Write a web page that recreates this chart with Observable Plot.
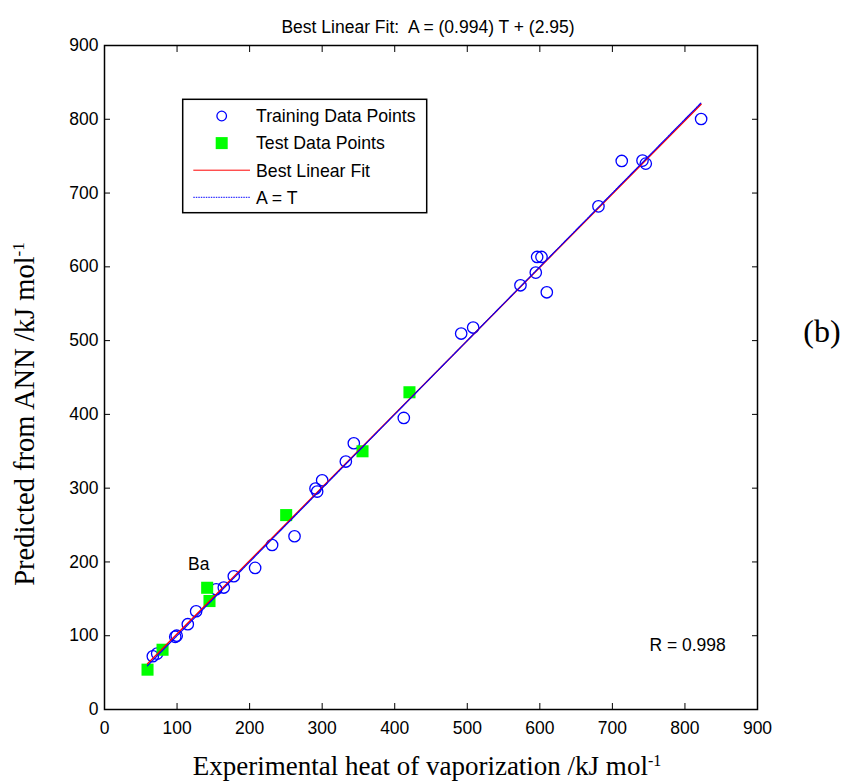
<!DOCTYPE html>
<html>
<head>
<meta charset="utf-8">
<script src="https://cdn.jsdelivr.net/npm/d3@7"></script>
<script src="https://cdn.jsdelivr.net/npm/@observablehq/plot@0.6"></script>
<style>
  html, body { margin: 0; padding: 0; background: #fff; }
  #wrap { position: relative; width: 849px; height: 784px; }
  #wrap > svg { position: absolute; left: 0; top: 0; }
</style>
</head>
<body>
<div id="wrap"></div>
<script>
// Training data: experimental T, predicted A (kJ/mol)
const trainT = [66.6, 72.6, 97.5, 99.5, 114.8, 126.3, 153.9, 164.4, 178.2, 207.6, 231.0, 261.9, 290.8, 293.1, 300.0, 332.6, 343.6, 412.5, 491.6, 508.1, 573.3, 594.4, 596.3, 602.3, 609.6, 680.8, 712.9, 741.5, 746.0, 822.3];
const trainA = [72.2, 75.8, 98.5, 100.0, 115.6, 133.2, 163.0, 165.3, 180.6, 191.9, 223.0, 234.8, 299.5, 295.4, 310.7, 336.1, 360.9, 395.2, 509.6, 517.7, 575.0, 592.2, 613.4, 613.4, 565.5, 682.0, 743.5, 744.0, 739.9, 800.4];
// Test data
const testT = [59.3, 80.0, 144.7, 141.5, 250.4, 355.6, 420.3];
const testA = [54.0, 81.0, 147.0, 165.0, 263.5, 350.0, 430.0];
// Fit parameters
const slope = 0.994, intercept = 2.95, R = 0.998;
const xTicks = [0, 100, 200, 300, 400, 500, 600, 700, 800, 900];
const yTicks = [0, 100, 200, 300, 400, 500, 600, 700, 800, 900];

const train = trainT.map((t, i) => ({T: t, A: trainA[i]}));
const test = testT.map((t, i) => ({T: t, A: testA[i]}));
const ext = d3.extent([...trainT, ...testT]);
const fitLine = ext.map(t => ({T: t, A: slope * t + intercept}));
const idLine = ext.map(t => ({T: t, A: t}));
const notes = [{T: 130, A: 197, label: "Ba"}];
const rNote = [{T: 751, A: 87, label: `R = ${R}`}];

const sans = "'Liberation Sans', Arial, sans-serif";
const serif = "'Liberation Serif', 'Times New Roman', serif";

const plot = Plot.plot({
  width: 849,
  height: 784,
  marginLeft: 104,
  marginRight: 92,
  marginTop: 45,
  marginBottom: 75,
  style: {fontFamily: sans, fontSize: "17.5px", color: "#000", background: "transparent"},
  x: {domain: [0, 900], ticks: xTicks, label: null},
  y: {domain: [0, 900], ticks: yTicks, label: null},
  marks: [
    Plot.axisX({anchor: "bottom", ticks: xTicks, tickSize: -6, tickPadding: 18, label: null, fontSize: 17.5, stroke: "#000"}),
    Plot.axisX({anchor: "top", ticks: xTicks, tickSize: -6, tickFormat: () => "", label: null}),
    Plot.axisY({anchor: "left", ticks: yTicks, tickSize: -6, tickPadding: 12, label: null, fontSize: 17.5}),
    Plot.axisY({anchor: "right", ticks: yTicks, tickSize: -6, tickFormat: () => "", label: null}),
    Plot.dot(train, {x: "T", y: "A", r: 5.7, stroke: "#0000ff", strokeWidth: 1.3, fill: "none"}),
    Plot.dot(test, {x: "T", y: "A", r: 6.8, symbol: "square", fill: "#00ff00", stroke: "none"}),
    Plot.line(fitLine, {x: "T", y: "A", stroke: "#ff0000", strokeWidth: 1.4}),
    Plot.line(idLine, {x: "T", y: "A", stroke: "#0000ff", strokeWidth: 1.2, strokeDasharray: "1.5,1"}),
    Plot.text(notes, {x: "T", y: "A", text: "label", fontSize: 17.5, fill: "#000"}),
    Plot.text(rNote, {x: "T", y: "A", text: "label", fontSize: 17.5, textAnchor: "start", fill: "#000"}),
    Plot.frame({stroke: "#000", strokeWidth: 1.5})
  ]
});
const wrap = document.getElementById("wrap");
wrap.appendChild(plot);

// Overlay: title, axis labels, panel tag, legend
const ov = d3.select(wrap).append("svg")
  .attr("width", 849).attr("height", 784)
  .style("pointer-events", "none");

ov.append("text").attr("x", 428).attr("y", 32.7).attr("text-anchor", "middle")
  .style("font-family", sans).style("font-size", "17.5px").style("white-space", "pre")
  .text(`Best Linear Fit:  A = (${slope}) T + (${intercept})`);

const xl = ov.append("text").attr("x", 427).attr("y", 775).attr("text-anchor", "middle")
  .style("font-family", serif).style("font-size", "27px");
xl.append("tspan").text("Experimental heat of vaporization /kJ mol");
xl.append("tspan").attr("dy", -9).style("font-size", "16px").text("-1");

const yl = ov.append("text").attr("transform", "translate(34,414) rotate(-90)").attr("text-anchor", "middle")
  .style("font-family", serif).style("font-size", "28.5px");
yl.append("tspan").text("Predicted from ANN /kJ mol");
yl.append("tspan").attr("dy", -10).style("font-size", "17px").text("-1");

ov.append("text").attr("x", 822).attr("y", 342).attr("text-anchor", "middle")
  .style("font-family", serif).style("font-size", "32px").text("(b)");

// Legend
const lg = ov.append("g");
lg.append("rect").attr("x", 182.7).attr("y", 99.3).attr("width", 244).attr("height", 113.4)
  .attr("fill", "#fff").attr("stroke", "#000").attr("stroke-width", 1.5);
const items = [
  {label: "Training Data Points", kind: "circle"},
  {label: "Test Data Points", kind: "square"},
  {label: "Best Linear Fit", kind: "red"},
  {label: "A = T", kind: "blue"}
];
items.forEach((it, i) => {
  const cy = 116 + i * 27.1;
  if (it.kind === "circle") {
    lg.append("circle").attr("cx", 221.7).attr("cy", cy).attr("r", 4.8)
      .attr("fill", "none").attr("stroke", "#0000ff").attr("stroke-width", 1.3);
  } else if (it.kind === "square") {
    lg.append("rect").attr("x", 221.7 - 6).attr("y", cy - 6).attr("width", 12).attr("height", 12).attr("fill", "#00ff00");
  } else {
    lg.append("line").attr("x1", 193.3).attr("x2", 250).attr("y1", cy).attr("y2", cy)
      .attr("stroke", it.kind === "red" ? "#ff0000" : "#0000ff").attr("stroke-width", 1)
      .attr("stroke-dasharray", it.kind === "blue" ? "1.5,1" : null);
  }
  lg.append("text").attr("x", 256).attr("y", cy).attr("dy", "0.36em")
    .style("font-family", sans).style("font-size", "17.7px").text(it.label);
});
</script>
</body>
</html>
